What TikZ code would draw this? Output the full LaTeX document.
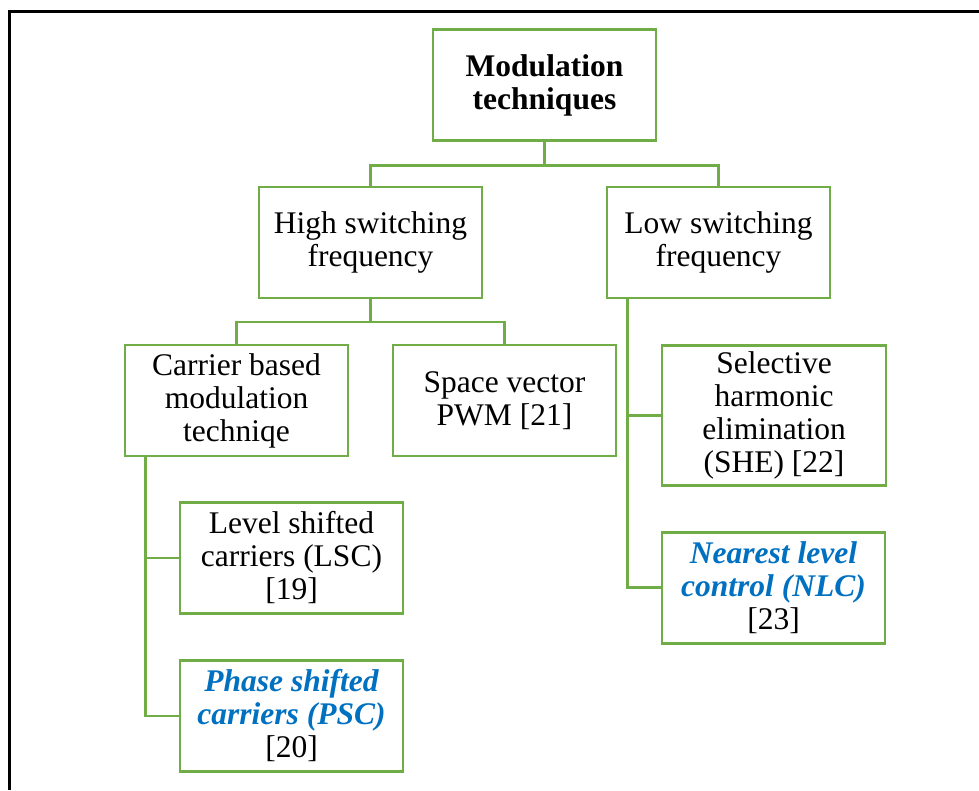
\documentclass[tikz,border=0pt]{standalone}
\usepackage{fontspec}
\setmainfont{Liberation Serif}
\definecolor{boxgreen}{RGB}{112,173,71}
\definecolor{linkblue}{RGB}{0,112,192}
\begin{document}
\begin{tikzpicture}[x=1pt,y=-1pt,
  box/.style={draw=boxgreen, line width=2.8pt, rectangle, align=center,
    minimum width=223pt, minimum height=111pt, inner sep=2pt,
    font=\fontsize{31.5}{33}\selectfont},
  link/.style={draw=boxgreen, line width=2.8pt},
  frame/.style={draw=black, line width=2.8pt},
  hl/.style={font=\bfseries\itshape, text=linkblue}]
\useasboundingbox (0,0) rectangle (979,790);
\draw[frame] (9.3,790) -- (9.3,11.3) -- (979,11.3);

\node[box] (root) at (544.5,85) {\textbf{Modulation}\\\textbf{techniques}};
\node[box] (high) at (370.5,242.5) {High switching\\frequency};
\node[box] (low) at (718.5,242.5) {Low switching\\frequency};
\node[box] (carrier) at (236.5,400.5) {Carrier based\\modulation\\techniqe};
\node[box] (space) at (504.5,400.5) {Space vector\\PWM [21]};
\node[box, minimum height=140pt, minimum width=224pt] (she) at (774,415.3) {Selective\\harmonic\\elimination\\(SHE) [22]};
\node[box] (lsc) at (291.5,558) {Level shifted\\carriers (LSC)\\{}[19]};
\node[box] (psc) at (291.5,716) {{\bfseries\itshape\color{linkblue}Phase shifted}\\{\bfseries\itshape\color{linkblue}carriers (PSC)}\\{}[20]};
\node[box] (nlc) at (773.5,587.6) {{\bfseries\itshape\color{linkblue}Nearest level}\\{\bfseries\itshape\color{linkblue}control (NLC)}\\{}[23]};

% tree connectors
\draw[link] (root.south) -- ++(0,23.5) coordinate (rj) -| (high.north);
\draw[link] (rj) -| (low.north);
\draw[link] (high.south) -- ++(0,22.5) coordinate (hj) -| (carrier.north);
\draw[link] (hj) -| (space.north);
\coordinate (ct) at ([xshift=22pt]carrier.south west);
\draw[link] (ct) |- (lsc.west);
\draw[link] (ct) |- (psc.west);
\coordinate (lt) at ([xshift=22pt]low.south west);
\draw[link] (lt) |- (she.west);
\draw[link] (lt) |- (nlc.west);
\end{tikzpicture}
\end{document}
